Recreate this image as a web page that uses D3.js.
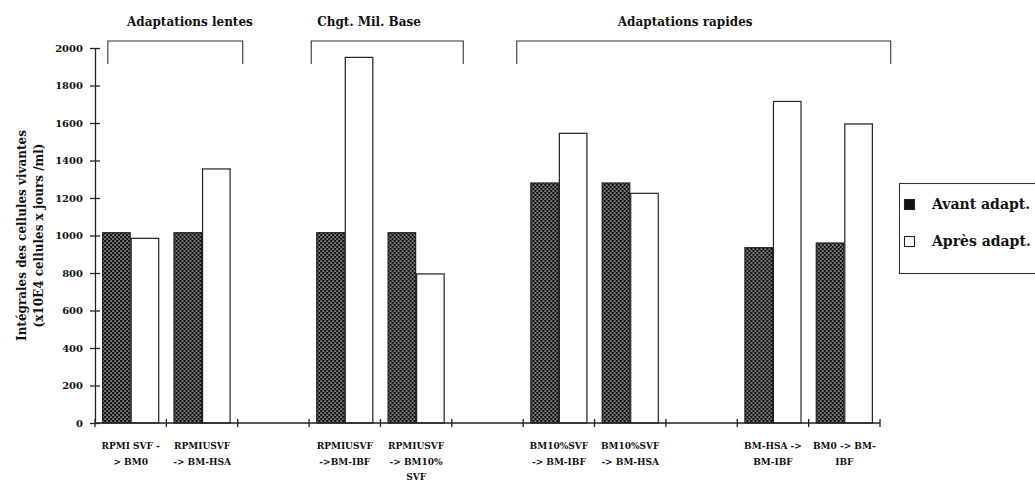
<!DOCTYPE html>
<html><head><meta charset="utf-8">
<script src="https://cdn.jsdelivr.net/npm/d3@7"></script>
<style>
html,body{margin:0;padding:0;background:#fff;}
text{font-family:"DejaVu Serif","Liberation Serif",serif;font-weight:bold;fill:#111;}
</style></head>
<body><svg id="c" width="1035" height="481"></svg>
<script>
// ---- data ----
const categories = ["c1","c2","gap1","c3","c4","gap2","c5","c6","gap3","c7","c8"];
const categoryLabels = [
  ["RPMI SVF -","> BM0"],
  ["RPMIUSVF","-> BM-HSA"],
  [],
  ["RPMIUSVF","->BM-IBF"],
  ["RPMIUSVF","-> BM10%","SVF"],
  [],
  ["BM10%SVF","-> BM-IBF"],
  ["BM10%SVF","-> BM-HSA"],
  [],
  ["BM-HSA ->","BM-IBF"],
  ["BM0 -> BM-","IBF"]
];
const avant = [1015,1015,null,1015,1015,null,1280,1280,null,935,960];
const apres = [985,1355,null,1950,795,null,1545,1225,null,1715,1595];
const seriesNames = ["Avant adapt.","Après adapt."];
const yTicks = [0,200,400,600,800,1000,1200,1400,1600,1800,2000];
const groupLabels = ["Adaptations lentes","Chgt. Mil. Base","Adaptations rapides"];
const yTitle = ["Intégrales des cellules vivantes","(x10E4 cellules x jours /ml)"];

// ---- layout (positions in category-slot units) ----
const groupSpans = [[0.18,2.07,1.33],[3.03,5.16,3.84],[5.91,11.15,8.27]];

const svg = d3.select("#c");
const M = {left:95, right:880, top:48, bottom:423};

const x = d3.scaleBand().domain(categories).range([M.left,M.right]).paddingInner(0.2).paddingOuter(0.1);
const xs = d3.scaleBand().domain([0,1]).range([0,x.bandwidth()]);
const slot = d3.scaleLinear().domain([0,categories.length]).range([M.left,M.right]);
const y = d3.scaleLinear().domain([0,2000]).range([M.bottom,M.top]);

// pattern
const defs = svg.append("defs");
const pat = defs.append("pattern").attr("id","dots").attr("patternUnits","userSpaceOnUse")
  .attr("width",4).attr("height",4);
pat.append("rect").attr("width",4).attr("height",4).attr("fill","#111");
pat.append("circle").attr("cx",1).attr("cy",1).attr("r",0.85).attr("fill","#d8d8d8");
pat.append("circle").attr("cx",3).attr("cy",3).attr("r",0.85).attr("fill","#d8d8d8");

// bars
const rows = categories.map((c,i)=>({c, v:[avant[i],apres[i]]}));
const g = svg.append("g").selectAll("g").data(rows).join("g")
  .attr("transform",d=>`translate(${x(d.c)},0)`);
g.selectAll("rect").data(d=>d.v.map((v,k)=>({v,k})).filter(e=>e.v!=null)).join("rect")
  .attr("x",e=>xs(e.k)+0.5).attr("width",xs.bandwidth()-1)
  .attr("y",e=>y(e.v)).attr("height",e=>y(0)-y(e.v))
  .attr("fill",e=>e.k===0?"url(#dots)":"#fff")
  .attr("stroke","#222").attr("stroke-width",1.2);

// y axis
const yAxis = d3.axisLeft(y).tickValues(yTicks).tickFormat(d3.format("d")).tickSize(0).tickPadding(12);
const ya = svg.append("g").attr("transform",`translate(${M.left},0)`).call(yAxis);
ya.select(".domain").attr("stroke","#222").attr("stroke-width",1.3);
ya.selectAll("text").attr("font-size",10).attr("fill","#111");
ya.selectAll(".tick").append("line").attr("x1",-5).attr("x2",5).attr("stroke","#222").attr("stroke-width",1.3);

// x axis
const xa = svg.append("g");
xa.append("line").attr("x1",M.left).attr("x2",M.right).attr("y1",y(0)).attr("y2",y(0)).attr("stroke","#222").attr("stroke-width",1.3);
xa.selectAll("line.t").data(d3.range(categories.length+1)).join("line").attr("class","t")
  .attr("x1",i=>slot(i)).attr("x2",i=>slot(i)).attr("y1",y(0)-4).attr("y2",y(0)+4)
  .attr("stroke","#222").attr("stroke-width",1.3);

// x labels
categories.forEach((c,i)=>{
  const t = svg.append("text").attr("text-anchor","middle").attr("font-size",9)
    .attr("x",x(c)+x.bandwidth()/2).attr("y",449);
  categoryLabels[i].forEach((ln,j)=>{
    t.append("tspan").attr("x",x(c)+x.bandwidth()/2).attr("dy",j===0?0:15.5).text(ln);
  });
});

// group brackets
groupSpans.forEach((s,i)=>{
  const x0=slot(s[0]), x1=slot(s[1]);
  svg.append("path").attr("d",`M${x0},64V41H${x1}V64`).attr("fill","none").attr("stroke","#333").attr("stroke-width",1.1);
  svg.append("text").attr("x",slot(s[2])).attr("y",26).attr("text-anchor","middle").attr("font-size",12).text(groupLabels[i]);
});

// y title
const yt = svg.append("text").attr("transform",`translate(0,${(M.top+M.bottom)/2}) rotate(-90)`)
  .attr("text-anchor","middle").attr("font-size",12);
yt.append("tspan").attr("x",0).attr("y",26).text(yTitle[0]);
yt.append("tspan").attr("x",0).attr("y",43).text(yTitle[1]);

// legend
const lg = svg.append("g");
lg.append("rect").attr("x",899.5).attr("y",183.5).attr("width",150).attr("height",90).attr("fill","#fff").attr("stroke","#333").attr("stroke-width",1.1);
seriesNames.forEach((n,k)=>{
  const yy = 199 + k*37;
  lg.append("rect").attr("x",904.5).attr("y",yy+0.5).attr("width",10).attr("height",10)
    .attr("fill",k===0?"#111":"#fff").attr("stroke","#222").attr("stroke-width",1.1);
  lg.append("text").attr("x",932).attr("y",yy+10).attr("font-size",14).text(n);
});
</script></body></html>
